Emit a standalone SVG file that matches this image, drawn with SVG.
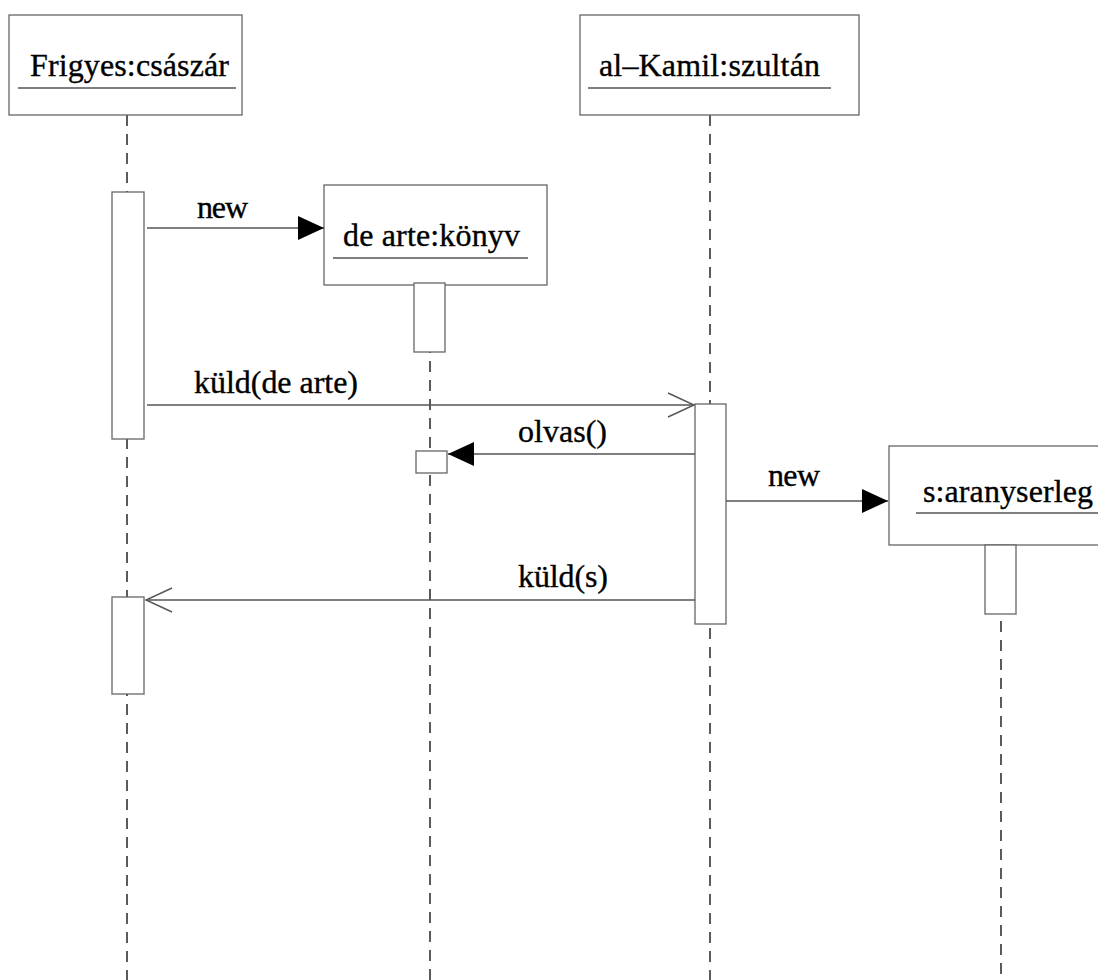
<svg xmlns="http://www.w3.org/2000/svg" width="1098" height="980" viewBox="0 0 1098 980">
<style>
.box{fill:#fff;stroke:#666;stroke-width:1.3}
.act{fill:#fff;stroke:#666;stroke-width:1.3}
.ul{stroke:#555;stroke-width:1.3}
.life{stroke:#333;stroke-width:1.6;stroke-dasharray:11 8;fill:none}
.msg{stroke:#555;stroke-width:1.3;fill:none}
text{font-family:"Liberation Serif","Times New Roman",serif;font-size:32px;fill:#000;stroke:#000;stroke-width:0.35}
</style>
<defs>
<marker id="filled" markerUnits="userSpaceOnUse" markerWidth="28" markerHeight="26" refX="26" refY="12" orient="auto"><path d="M0,0 L26,12 L0,24 Z" fill="#000"/></marker>
<marker id="open" markerUnits="userSpaceOnUse" markerWidth="30" markerHeight="28" refX="27" refY="13" orient="auto"><path d="M1,1 L27,13 L1,25" fill="none" stroke="#555" stroke-width="1.4"/></marker>
</defs>
<rect width="1098" height="980" fill="#fff"/>
<g id="lifelines">
<line class="life" x1="127" y1="115" x2="127" y2="980"/>
<line class="life" x1="430" y1="285" x2="430" y2="980"/>
<line class="life" x1="710" y1="115" x2="710" y2="980"/>
<line class="life" x1="1001" y1="545" x2="1001" y2="980"/>
</g>
<g id="frigyes">
<rect class="box" x="9" y="15" width="233" height="100"/>
<text x="30" y="76" textLength="199" lengthAdjust="spacing">Frigyes:császár</text>
<line class="ul" x1="18" y1="88" x2="236" y2="88"/>
<rect class="act" x="112" y="192" width="32" height="247"/>
<rect class="act" x="112" y="597" width="32" height="97"/>
</g>
<g id="alkamil">
<rect class="box" x="580" y="15" width="279" height="100"/>
<text x="599" y="76" textLength="221" lengthAdjust="spacing">al–Kamil:szultán</text>
<line class="ul" x1="588" y1="88" x2="831" y2="88"/>
<rect class="act" x="695" y="404" width="31" height="220"/>
</g>
<g id="konyv">
<rect class="box" x="324" y="185" width="223" height="100"/>
<text x="343" y="246" textLength="177" lengthAdjust="spacing">de arte:könyv</text>
<line class="ul" x1="333" y1="258" x2="528" y2="258"/>
<rect class="act" x="414" y="283" width="31" height="69"/>
<rect class="act" x="416" y="451" width="31" height="22"/>
</g>
<g id="aranyserleg">
<rect class="box" x="889" y="446" width="230" height="99"/>
<text x="923" y="502" textLength="170" lengthAdjust="spacing">s:aranyserleg</text>
<line class="ul" x1="916" y1="513" x2="1098" y2="513"/>
<rect class="act" x="985" y="545" width="31" height="69"/>
</g>
<g id="connectors">
<line class="msg" x1="147" y1="228" x2="324" y2="228" marker-end="url(#filled)"/>
<line class="msg" x1="147" y1="405" x2="694" y2="405" marker-end="url(#open)"/>
<line class="msg" x1="695" y1="454" x2="448" y2="454" marker-end="url(#filled)"/>
<line class="msg" x1="726" y1="501" x2="888" y2="501" marker-end="url(#filled)"/>
<line class="msg" x1="695" y1="600" x2="146" y2="600" marker-end="url(#open)"/>
<text x="197" y="218" textLength="51" lengthAdjust="spacing">new</text>
<text x="194" y="393" textLength="164" lengthAdjust="spacing">küld(de arte)</text>
<text x="518" y="442" textLength="89" lengthAdjust="spacing">olvas()</text>
<text x="768" y="486" textLength="52" lengthAdjust="spacing">new</text>
<text x="518" y="587" textLength="90" lengthAdjust="spacing">küld(s)</text>
</g>
</svg>
